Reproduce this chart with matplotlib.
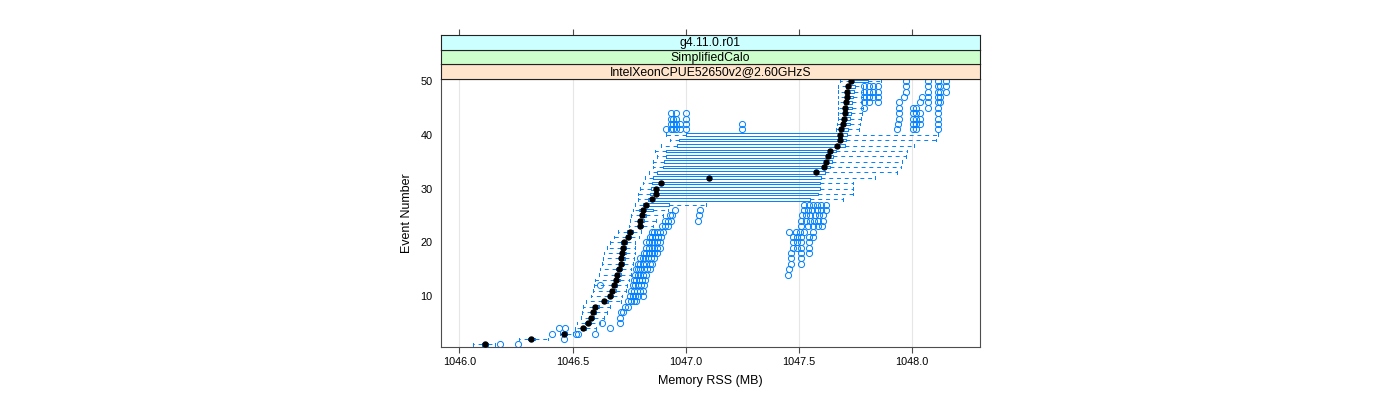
import matplotlib
matplotlib.use('Agg')
import matplotlib.pyplot as plt

plt.rcParams['font.family'] = ['Liberation Sans', 'DejaVu Sans']

# per-event box statistics, Memory RSS in MB
events = list(range(1, 51))

whisker_lo = [
    1046.061, 1046.262, 1046.445, 1046.510, 1046.520, 1046.535, 1046.540, 1046.545, 1046.561, 1046.580,
    1046.590, 1046.595, 1046.600, 1046.615, 1046.620, 1046.630, 1046.635, 1046.640, 1046.650, 1046.664,
    1046.685, 1046.700, 1046.750, 1046.755, 1046.760, 1046.767, 1046.775, 1046.790, 1046.790, 1046.800,
    1046.810, 1046.819, 1046.838, 1046.856, 1046.856, 1046.871, 1046.863, 1046.893, 1046.929, 1046.915,
    1047.666, 1047.670, 1047.672, 1047.675, 1047.675, 1047.675, 1047.675, 1047.673, 1047.673, 1047.683,
]
box_lo = [
    1046.100, 1046.305, 1046.455, 1046.535, 1046.557, 1046.572, 1046.583, 1046.592, 1046.628, 1046.655,
    1046.665, 1046.672, 1046.684, 1046.688, 1046.692, 1046.704, 1046.706, 1046.710, 1046.713, 1046.716,
    1046.735, 1046.742, 1046.788, 1046.790, 1046.797, 1046.794, 1046.812, 1046.834, 1046.841, 1046.848,
    1046.851, 1046.856, 1046.873, 1046.900, 1046.903, 1046.911, 1046.914, 1046.962, 1046.970, 1047.000,
    1047.680, 1047.688, 1047.690, 1047.695, 1047.697, 1047.700, 1047.706, 1047.706, 1047.708, 1047.725,
]
medians = [
    1046.112, 1046.315, 1046.461, 1046.544, 1046.566, 1046.580, 1046.590, 1046.601, 1046.638, 1046.664,
    1046.675, 1046.682, 1046.694, 1046.697, 1046.703, 1046.713, 1046.716, 1046.720, 1046.723, 1046.726,
    1046.745, 1046.753, 1046.797, 1046.800, 1046.807, 1046.811, 1046.823, 1046.851, 1046.867, 1046.870,
    1046.892, 1047.103, 1047.574, 1047.611, 1047.620, 1047.627, 1047.640, 1047.670, 1047.680, 1047.680,
    1047.688, 1047.695, 1047.698, 1047.703, 1047.705, 1047.707, 1047.714, 1047.714, 1047.717, 1047.729,
]
box_hi = [
    1046.125, 1046.335, 1046.475, 1046.560, 1046.580, 1046.595, 1046.605, 1046.615, 1046.655, 1046.680,
    1046.690, 1046.697, 1046.708, 1046.712, 1046.717, 1046.727, 1046.730, 1046.734, 1046.737, 1046.740,
    1046.758, 1046.766, 1046.810, 1046.815, 1046.825, 1046.856, 1046.926, 1047.548, 1047.584, 1047.592,
    1047.594, 1047.599, 1047.614, 1047.636, 1047.646, 1047.650, 1047.665, 1047.702, 1047.709, 1047.712,
    1047.717, 1047.725, 1047.728, 1047.730, 1047.735, 1047.735, 1047.740, 1047.745, 1047.750, 1047.805,
]
whisker_hi = [
    1046.156, 1046.392, 1046.500, 1046.605, 1046.620, 1046.640, 1046.650, 1046.665, 1046.716, 1046.720,
    1046.735, 1046.740, 1046.750, 1046.760, 1046.760, 1046.765, 1046.770, 1046.775, 1046.775, 1046.775,
    1046.795, 1046.804, 1046.856, 1046.870, 1046.900, 1046.922, 1047.090, 1047.695, 1047.739, 1047.739,
    1047.739, 1047.839, 1047.933, 1047.953, 1047.955, 1047.972, 1047.978, 1048.011, 1048.107, 1048.114,
    1047.766, 1047.770, 1047.775, 1047.780, 1047.785, 1047.780, 1047.785, 1047.785, 1047.785, 1047.864,
]
outliers = [
    [1046.178, 1046.257],
    [1046.461],
    [1046.407, 1046.517, 1046.524, 1046.600],
    [1046.440, 1046.466, 1046.667],
    [1046.630, 1046.708],
    [1046.708],
    [1046.716, 1046.725],
    [1046.730, 1046.745],
    [1046.745, 1046.758, 1046.770, 1046.782],
    [1046.753, 1046.765, 1046.778, 1046.790, 1046.810],
    [1046.760, 1046.772, 1046.785, 1046.797, 1046.810],
    [1046.620, 1046.765, 1046.777, 1046.790, 1046.802, 1046.815],
    [1046.770, 1046.782, 1046.795, 1046.807, 1046.820],
    [1046.775, 1046.787, 1046.800, 1046.812, 1046.825, 1047.452],
    [1046.780, 1046.790, 1046.800, 1046.815, 1046.830, 1046.840, 1047.456],
    [1046.790, 1046.800, 1046.812, 1046.825, 1046.840, 1046.850, 1047.467, 1047.511],
    [1046.797, 1046.810, 1046.822, 1046.835, 1046.848, 1046.860, 1047.467, 1047.511],
    [1046.815, 1046.826, 1046.838, 1046.850, 1046.862, 1046.874, 1047.467, 1047.511, 1047.545],
    [1046.826, 1046.838, 1046.850, 1046.862, 1046.874, 1046.885, 1047.474, 1047.492, 1047.511, 1047.545],
    [1046.826, 1046.838, 1046.850, 1046.862, 1046.874, 1046.885, 1047.474, 1047.492, 1047.511, 1047.545],
    [1046.841, 1046.853, 1046.865, 1046.878, 1046.893, 1047.474, 1047.492, 1047.511, 1047.545, 1047.562],
    [1046.850, 1046.862, 1046.874, 1046.886, 1046.900, 1047.458, 1047.486, 1047.504, 1047.523, 1047.562],
    [1046.895, 1046.908, 1046.922, 1047.511, 1047.540, 1047.562, 1047.584, 1047.604],
    [1046.907, 1046.922, 1046.937, 1047.056, 1047.511, 1047.533, 1047.548, 1047.566, 1047.584, 1047.606],
    [1046.930, 1046.940, 1047.059, 1047.516, 1047.533, 1047.550, 1047.570, 1047.590, 1047.606],
    [1046.951, 1047.062, 1047.523, 1047.540, 1047.558, 1047.580, 1047.599, 1047.621],
    [1047.525, 1047.545, 1047.562, 1047.580, 1047.599, 1047.621],
    [], [], [], [], [], [], [], [], [], [], [], [], [],
    [1046.915, 1046.934, 1046.945, 1046.956, 1046.973, 1047.003, 1047.250, 1047.935, 1048.004, 1048.019, 1048.114],
    [1046.934, 1046.945, 1046.956, 1046.973, 1047.003, 1047.250, 1047.940, 1048.004, 1048.019, 1048.034, 1048.114],
    [1046.934, 1046.945, 1046.956, 1047.003, 1047.945, 1048.004, 1048.019, 1048.034, 1048.114],
    [1046.934, 1046.956, 1047.003, 1047.945, 1048.004, 1048.019, 1048.034, 1048.114],
    [1047.788, 1047.945, 1048.004, 1048.019, 1048.070, 1048.114],
    [1047.788, 1047.810, 1047.852, 1047.945, 1048.034, 1048.070, 1048.114, 1048.125],
    [1047.788, 1047.810, 1047.827, 1047.852, 1047.967, 1048.045, 1048.070, 1048.114, 1048.125],
    [1047.788, 1047.810, 1047.827, 1047.852, 1047.975, 1048.070, 1048.114, 1048.125, 1048.151],
    [1047.788, 1047.810, 1047.827, 1047.852, 1047.975, 1048.070, 1048.114, 1048.125, 1048.151],
    [1047.975, 1048.070, 1048.114, 1048.151],
]

strip_labels = ['IntelXeonCPUE52650v2@2.60GHzS', 'SimplifiedCalo', 'g4.11.0.r01']
strip_colors = ['#ffe5cc', '#ccffcc', '#ccffff']
x_ticks = [1046.0, 1046.5, 1047.0, 1047.5, 1048.0]
y_ticks = [10, 20, 30, 40, 50]

blue = '#0080ff'
border = '#4d4d4d'
xlim = (1045.917, 1048.301)

fig = plt.figure(figsize=(14, 4), dpi=100)
left, bottom, width, height = 0.3148, 0.1325, 0.3852, 0.67
ax = fig.add_axes([left, bottom, width, height])

stats = []
for lo, q1, med, q3, hi, fl in zip(whisker_lo, box_lo, medians, box_hi, whisker_hi, outliers):
    stats.append(dict(whislo=lo, q1=q1, med=med, q3=q3, whishi=hi, fliers=fl))

ax.bxp(stats, positions=events, orientation='horizontal', widths=0.5, capwidths=0.5,
       manage_ticks=False,
       boxprops=dict(color=blue, linewidth=0.7),
       whiskerprops=dict(color=blue, linewidth=0.7, linestyle=(0, (4, 4))),
       capprops=dict(color=blue, linewidth=0.7),
       medianprops=dict(linewidth=0),
       flierprops=dict(marker='o', markerfacecolor='none', markeredgecolor=blue,
                       markersize=4.4, markeredgewidth=0.7))
ax.plot(medians, events, 'o', color='black', markersize=3.6, zorder=5)

ax.set_xlim(*xlim)
ax.set_ylim(0.52, 50.37)
ax.set_xticks(x_ticks)
ax.set_xticklabels([f'{t:.1f}' for t in x_ticks])
ax.set_yticks(y_ticks)
ax.grid(axis='x', color='#e6e6e6', linewidth=0.8)
ax.set_axisbelow(True)
ax.tick_params(axis='x', direction='out', length=4.3, width=0.8, color=border, labelsize=7.8, pad=3)
ax.tick_params(axis='y', length=0, labelsize=7.8, pad=6)
for sp in ax.spines.values():
    sp.set_color(border)
    sp.set_linewidth(0.8)
ax.set_xlabel('Memory RSS (MB)', fontsize=9, labelpad=6)
ax.set_ylabel('Event Number', fontsize=9, labelpad=5)

# lattice-style strips stacked above the panel
strip_h = 0.03675
for i, (label, color) in enumerate(zip(strip_labels, strip_colors)):
    sax = fig.add_axes([left, bottom + height + i * strip_h, width, strip_h])
    sax.set_facecolor(color)
    sax.set_xlim(*xlim)
    sax.set_yticks([])
    sax.set_xticks([])
    for sp in sax.spines.values():
        sp.set_color('#222222')
        sp.set_linewidth(0.8)
    sax.text(0.5, 0.45, label, transform=sax.transAxes, ha='center', va='center', fontsize=8.8)
    if i == len(strip_labels) - 1:
        sax.set_xticks(x_ticks)
        sax.tick_params(axis='x', top=True, bottom=False, labeltop=False, labelbottom=False,
                        direction='out', length=4.3, width=0.8, color=border)

fig.savefig('out.png', dpi=100)
